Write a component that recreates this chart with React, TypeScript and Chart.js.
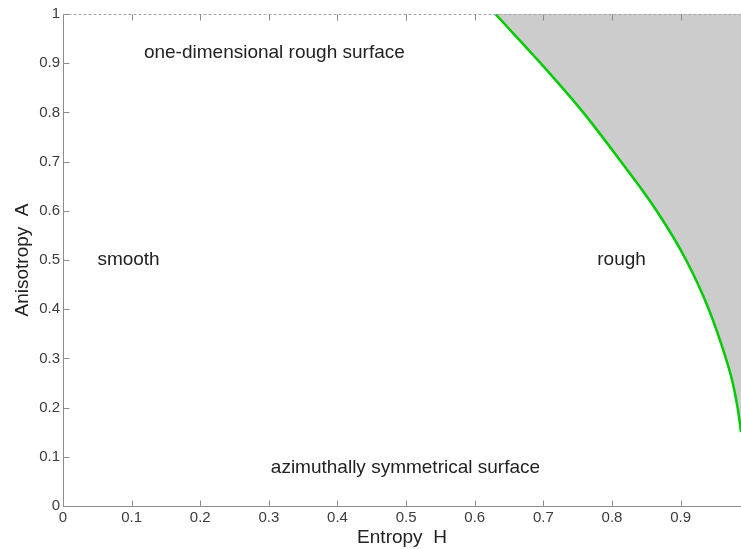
import React, { useEffect, useRef } from "react";
import { Chart, registerables } from "chart.js";

Chart.register(...registerables);

// Boundary curve (Entropy H vs Anisotropy A)
const boundaryH = [0.630, 0.696, 0.758, 0.813, 0.865, 0.908, 0.941, 0.966, 0.976, 0.983, 0.988, 0.992];
const boundaryA = [1.0, 0.9, 0.8, 0.7, 0.6, 0.5, 0.4, 0.3, 0.25, 0.2, 0.15, 0.1];

const xTicks = [0, 0.1, 0.2, 0.3, 0.4, 0.5, 0.6, 0.7, 0.8, 0.9];
const xTickLabels = ["0", "0.1", "0.2", "0.3", "0.4", "0.5", "0.6", "0.7", "0.8", "0.9"];
const yTicks = [0, 0.1, 0.2, 0.3, 0.4, 0.5, 0.6, 0.7, 0.8, 0.9, 1];
const yTickLabels = ["0", "0.1", "0.2", "0.3", "0.4", "0.5", "0.6", "0.7", "0.8", "0.9", "1"];

const regionTexts = ["one-dimensional rough surface", "smooth", "rough", "azimuthally symmetrical surface"];
const regionH = [0.308, 0.0955, 0.814, 0.499];
const regionA = [0.921, 0.5, 0.5, 0.077];

const xTitle = "Entropy  H";
const yTitle = "Anisotropy  A";

const overlayPlugin = {
  id: "overlay",
  afterDatasetsDraw(chart: any) {
    const { ctx, chartArea, scales } = chart;
    const { left, right, top, bottom } = chartArea;
    const x = scales.x;
    const y = scales.y;
    const L = Math.round(left) + 0.5;
    const B = Math.round(bottom) + 0.5;
    const T = Math.round(top) + 0.5;
    ctx.save();
    ctx.strokeStyle = "#8c8c8c";
    ctx.lineWidth = 1;
    ctx.beginPath();
    ctx.moveTo(L, T);
    ctx.lineTo(L, B);
    ctx.lineTo(right, B);
    ctx.stroke();
    ctx.strokeStyle = "#a6a6a6";
    ctx.setLineDash([3, 2]);
    ctx.beginPath();
    ctx.moveTo(L, T);
    ctx.lineTo(right, T);
    ctx.stroke();
    ctx.setLineDash([]);
    ctx.strokeStyle = "#8c8c8c";
    ctx.beginPath();
    xTicks.forEach((v) => {
      const px = Math.round(x.getPixelForValue(v)) + 0.5;
      ctx.moveTo(px, B);
      ctx.lineTo(px, B - 6);
      ctx.moveTo(px, T);
      ctx.lineTo(px, T + 6);
    });
    yTicks.forEach((v) => {
      const py = Math.round(y.getPixelForValue(v)) + 0.5;
      ctx.moveTo(L, py);
      ctx.lineTo(L + 6, py);
    });
    ctx.stroke();
    ctx.fillStyle = "#222222";
    ctx.font = "19px Arial, 'Liberation Sans', sans-serif";
    ctx.textAlign = "center";
    ctx.textBaseline = "middle";
    regionTexts.forEach((t, i) => {
      ctx.fillText(t, x.getPixelForValue(regionH[i]), y.getPixelForValue(regionA[i]));
    });
    ctx.restore();
  },
};

export default function App() {
  const canvasRef = useRef<HTMLCanvasElement | null>(null);

  useEffect(() => {
    document.body.style.margin = "0";
    const canvas = canvasRef.current;
    if (!canvas) return;
    const points = boundaryH.map((h, i) => ({ x: h, y: boundaryA[i] }));
    const tickFont = { family: "Arial, 'Liberation Sans', sans-serif", size: 15 };
    const titleFont = { family: "Arial, 'Liberation Sans', sans-serif", size: 19 };
    const chart = new Chart(canvas, {
      type: "scatter",
      data: {
        datasets: [
          {
            data: points,
            showLine: true,
            borderColor: "#00cc00",
            borderWidth: 2.5,
            backgroundColor: "#cccccc",
            fill: "end",
            pointRadius: 0,
            cubicInterpolationMode: "monotone",
          } as any,
        ],
      },
      options: {
        responsive: false,
        animation: false,
        devicePixelRatio: 1,
        layout: { padding: { top: 14, right: 0, left: 0, bottom: 0 } },
        plugins: { legend: { display: false }, tooltip: { enabled: false } },
        scales: {
          x: {
            type: "linear",
            min: 0,
            max: 0.988,
            grid: { display: false, drawTicks: false },
            border: { display: false },
            ticks: {
              padding: 3,
              font: tickFont,
              color: "#3c3c3c",
              maxRotation: 0,
              autoSkip: false,
              callback: (_v: any, i: number) => xTickLabels[i],
            },
            afterBuildTicks: (s: any) => {
              s.ticks = xTicks.map((v) => ({ value: v }));
            },
            afterFit: (s: any) => {
              s.height = 43;
            },
            title: {
              display: true,
              text: xTitle,
              font: titleFont,
              color: "#222222",
              padding: { top: 1, bottom: 0 },
            },
          },
          y: {
            type: "linear",
            min: 0,
            max: 1,
            grid: { display: false, drawTicks: false },
            border: { display: false },
            ticks: {
              padding: 3,
              font: tickFont,
              color: "#3c3c3c",
              autoSkip: false,
              callback: (_v: any, i: number) => yTickLabels[i],
            },
            afterBuildTicks: (s: any) => {
              s.ticks = yTicks.map((v) => ({ value: v }));
            },
            afterFit: (s: any) => {
              s.width = 63;
            },
            title: {
              display: true,
              text: yTitle,
              font: titleFont,
              color: "#222222",
              padding: { top: 11, bottom: 0 },
            },
          },
        },
      },
      plugins: [overlayPlugin],
    });
    return () => chart.destroy();
  }, []);

  return (
    <div style={{ width: 741, height: 549 }}>
      <canvas ref={canvasRef} width={741} height={549} />
    </div>
  );
}
